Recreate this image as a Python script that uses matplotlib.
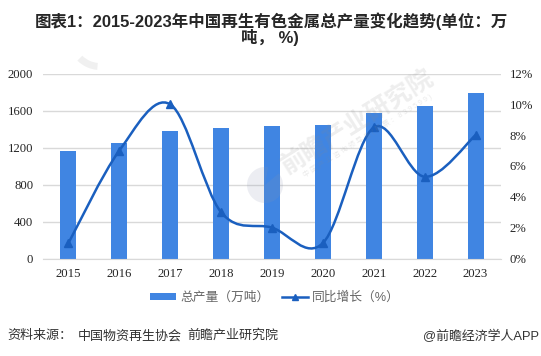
# -*- coding: utf-8 -*-
import numpy as np
import matplotlib
matplotlib.use('Agg')
import matplotlib.pyplot as plt
from matplotlib.path import Path
from matplotlib.patches import PathPatch, Patch, Wedge
from matplotlib.lines import Line2D

plt.rcParams['font.family'] = ['Liberation Sans', 'Noto Sans CJK SC', 'DejaVu Sans']

years = ['2015', '2016', '2017', '2018', '2019', '2020', '2021', '2022', '2023']
output = [1160, 1247, 1376, 1408, 1430, 1440, 1570, 1646, 1787]
growth = [1, 7, 10, 3, 2, 1, 8.5, 5.3, 8]
left_ticks = [0, 400, 800, 1200, 1600, 2000]
right_ticks = [0, 2, 4, 6, 8, 10, 12]

W, H = 541, 356
BLUE = '#4085e2'
LINE = '#1a5fbf'
GRID = '#d9d9d9'
SERIF = ['Liberation Serif', 'DejaVu Serif']

fig = plt.figure(figsize=(W / 100, H / 100), dpi=100)
ax = fig.add_axes([43 / W, 1 - 258.5 / H, 458 / W, 185 / H])
ax2 = ax.twinx()

x = np.arange(len(years))
ax.bar(x, output, width=0.315, color=BLUE, zorder=2)
ax.set_xlim(-0.5, 8.5)
ax.set_ylim(0, 2000)
ax.set_xticks(x)
ax.set_xticklabels(years, family=SERIF, fontsize=9.2, color='#262626')
ax.set_yticks(left_ticks)
ax.set_yticklabels([str(v) for v in left_ticks], family=SERIF, fontsize=9.2, color='#262626')
ax.tick_params(axis='x', length=0, pad=7)
ax.tick_params(axis='y', length=0, pad=7)
ax.grid(axis='y', color=GRID, lw=1, zorder=0)
ax.set_axisbelow(True)
for s in ax.spines.values():
    s.set_visible(False)
ax.spines['bottom'].set_visible(True)
ax.spines['bottom'].set_color(GRID)

# smoothed line like the spreadsheet one, bezier through the data points
verts = [(x[0], growth[0])]
codes = [Path.MOVETO]
n = len(growth)
for i in range(n - 1):
    p0 = np.array([x[max(i - 1, 0)], growth[max(i - 1, 0)]], dtype=float)
    p1 = np.array([x[i], growth[i]], dtype=float)
    p2 = np.array([x[i + 1], growth[i + 1]], dtype=float)
    p3 = np.array([x[min(i + 2, n - 1)], growth[min(i + 2, n - 1)]], dtype=float)
    verts += [tuple(p1 + (p2 - p0) / 6), tuple(p2 - (p3 - p1) / 6), tuple(p2)]
    codes += [Path.CURVE4] * 3
ax2.add_patch(PathPatch(Path(verts, codes), fc='none', ec=LINE, lw=1.8, zorder=3))
ax2.plot(x, growth, ls='none', marker='^', ms=6, color=LINE, zorder=4)
ax2.set_ylim(0, 12)
ax2.set_yticks(right_ticks)
ax2.set_yticklabels(['%d%%' % v for v in right_ticks], family=SERIF, fontsize=9.2, color='#262626')
ax2.tick_params(length=0, pad=6)
for s in ax2.spines.values():
    s.set_visible(False)

# watermark
wm = '#8a8a8a'
fig.text(358 / W, 1 - 123 / H, '前瞻产业研究院', fontsize=18, color=wm, alpha=0.15, rotation=32,
         ha='center', va='center', fontweight='bold', zorder=10)
fig.text(368 / W, 1 - 136 / H, '中 国 产 业 咨 询 领 导 者 ( 股 票 ： 8 3 9 5 9 9 )', fontsize=5, color=wm, alpha=0.18,
         rotation=32, ha='center', va='center', zorder=10)
overlay = fig.add_axes([0, 0, 1, 1], facecolor='none', zorder=10)
overlay.set_xlim(0, W)
overlay.set_ylim(H, 0)
overlay.axis('off')
overlay.add_patch(Wedge((265, 185), 18, 320, 640, fc='#8a94b0', ec='none', alpha=0.16))
overlay.add_patch(Wedge((100, 38), 32, 95, 135, width=7, fc=wm, ec='none', alpha=0.12))

fig.text(271 / W, 1 - 21 / H, '图表1：2015-2023年中国再生有色金属总产量变化趋势(单位：万',
         fontsize=11.85, fontweight='bold', color='#262626', ha='center', va='center')
fig.text(270 / W, 1 - 38 / H, '吨， %)', fontsize=11.85, fontweight='bold', color='#262626',
         ha='center', va='center')

handles = [Patch(fc=BLUE, ec='none'),
           Line2D([], [], color=LINE, lw=1.8, marker='^', ms=5)]
fig.legend(handles, ['总产量（万吨）', '同比增长（%）'], loc='center', bbox_to_anchor=(275 / W, 1 - 298 / H),
           ncol=2, frameon=False, fontsize=9.2, labelcolor='#666666', handlelength=2.03, handleheight=0.5,
           columnspacing=1.0, handletextpad=0.3)

fig.text(7 / W, 1 - 336 / H, '资料来源：', fontsize=9.4, color='#333333', ha='left', va='center')
fig.text(78 / W, 1 - 336 / H, '中国物资再生协会', fontsize=9.4, color='#333333', ha='left', va='center')
fig.text(187 / W, 1 - 336 / H, '前瞻产业研究院', fontsize=9.4, color='#333333', ha='left', va='center')
fig.text(539 / W, 1 - 336 / H, '@前瞻经济学人APP', fontsize=9.3, color='#333333', ha='right', va='center')

fig.savefig('out.png', dpi=100)
